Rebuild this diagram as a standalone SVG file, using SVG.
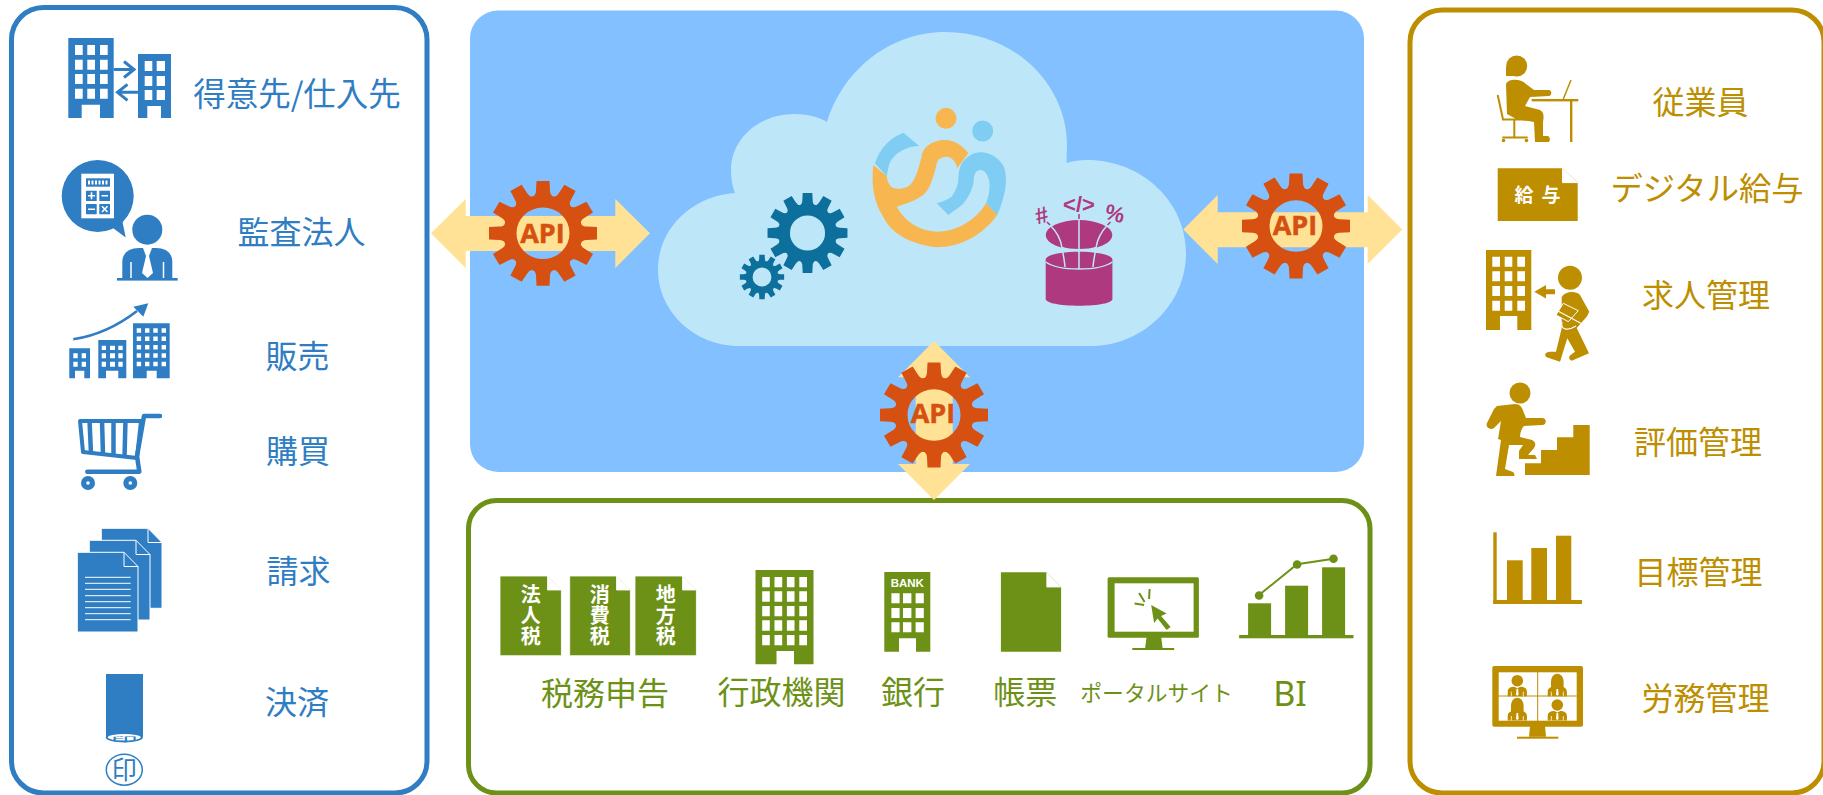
<svg xmlns="http://www.w3.org/2000/svg" width="1823" height="795" viewBox="0 0 1823 795">
<style>
text{font-family:"Noto Sans CJK JP","Noto Sans",sans-serif;text-anchor:middle}
.b{fill:#2F7DC3}.g{fill:#BC8E00}.gr{fill:#6D9117}.w{fill:#fff}
.o{fill:#D65111}.t{fill:#0D6F9B}.m{fill:#AF397F}.cl{fill:#BDE7F9}
.arrow{fill:#FFE295}
.panel{fill:#fff;stroke-width:5}
.wl{stroke:#fff;stroke-width:1;fill:none}
.api{font-family:"Open Sans","Liberation Sans",sans-serif;font-weight:700;font-size:27px;fill:#D65111;stroke:#D65111;stroke-width:.5}
.tw{font-weight:700;font-size:20px;fill:#fff;writing-mode:vertical-rl;letter-spacing:1px}
.sym{font-family:"Liberation Sans",sans-serif;font-weight:700;fill:#AF397F}
</style>
<defs>
<path id="tooth" d="M-11 -37Q-7 -39 -7 -44L-6.500 -54L6.500 -54L7 -44Q7 -39 11 -37Z"/>
<g id="teeth">
<use href="#tooth"/><use href="#tooth" transform="rotate(30)"/><use href="#tooth" transform="rotate(60)"/><use href="#tooth" transform="rotate(90)"/><use href="#tooth" transform="rotate(120)"/><use href="#tooth" transform="rotate(150)"/><use href="#tooth" transform="rotate(180)"/><use href="#tooth" transform="rotate(210)"/><use href="#tooth" transform="rotate(240)"/><use href="#tooth" transform="rotate(270)"/><use href="#tooth" transform="rotate(300)"/><use href="#tooth" transform="rotate(330)"/>
</g>
<g id="apiGear"><use href="#teeth"/><circle r="33" fill="none" stroke="#D65111" stroke-width="13"/></g>
<g id="vp">
<path d="M-9.600 15.500V11C-9.600 7-6 6-3 6L0 7.500L3 6C6 6 9.600 7 9.600 11V15.500Z"/>
<path d="M-.8 8H.8L1.300 14L0 15L-1.300 14Z" fill="#fff"/>
<path d="M-6 11V15.500M6 11V15.500" stroke="#fff" stroke-width=".8"/>
</g>
</defs>
<rect width="1823" height="795" fill="#fff"/>

<g id="panels">
<rect id="panel-left" class="panel" x="11.500" y="7.500" width="415.500" height="785.500" rx="32" stroke="#2F7DC3"/>
<rect id="panel-center" x="470" y="10.500" width="894" height="461.500" rx="28" fill="#83C0FF"/>
<rect id="panel-bottom" class="panel" x="468.500" y="500.500" width="901.500" height="292.500" rx="28" stroke="#6D9117"/>
<rect id="panel-right" class="panel" x="1410" y="10" width="414" height="783" rx="32" stroke="#BC8E00"/>
</g>

<g id="cloud">
<path class="cl" d="M739 346C694 346 658 311 658 270C658 228 692 196 735 193C732 185 731 178 731 170C731 138 760 114 794 114C808 114 819 117 827 122C843 70 890 32 945 32C1015 32 1067 85 1067 145L1066.500 163C1072 161 1080 160 1087 160C1142 160 1186 202 1186 253C1186 305 1142 346 1091 346Z"/>
</g>

<g id="gears" class="t">
<g transform="translate(807.500 233) scale(.74)"><use href="#teeth"/><circle r="31.500" fill="none" stroke="#0D6F9B" stroke-width="15.500"/></g>
<g transform="translate(762 277) scale(.41)"><use href="#teeth"/><circle r="31" fill="none" stroke="#0D6F9B" stroke-width="16"/></g>
</g>

<g id="logo">
<circle cx="946" cy="118.300" r="10.500" fill="#F7B64F"/>
<circle cx="982.700" cy="131" r="10.500" fill="#7FCDF3"/>
<path fill="#7FCDF3" d="M875 163.300C880 148 890 138 903.300 132.700L919.300 146C905 146 892 155 889 165L886.700 176Z"/>
<path fill="#7FCDF3" d="M936.700 203.300C945 201 948 199 951.700 196.700C956 190 958 185 958.300 180C959 172 958 160 975 153C985 150 998 155 1004 167C1008 178 1006 195 997.300 215L986 203.300C990 193 992 180 985 172C981 168 975 170 974 177C974 187 969 197 963 204C957 209 952 212 948.300 215Z"/>
<path fill="#F7B64F" d="M873.300 165C871 185 874 203 883.300 216.700C890 231 905 243 936.700 247.300C960 247 982 236 997.300 215L986 203.300C978 217 960 231.700 936.700 231.700C920 231 905 222 896.700 206.700C905 204 915 201 923.300 195C931 188 934 175 936.700 163.300C938 159 942 156.700 946.700 156.700C952 157 956 162 957.300 168.300L968.300 153.300C962 145 954 140 945 140C932 140 922 148 921.700 156.700C919 165 917 178 910 185C905 189 898 190 891.700 187.300C888 183 887 180 886.700 176Z"/>
</g>

<g id="database">
<ellipse class="m" cx="1079" cy="235" rx="33.300" ry="15"/>
<path class="m" d="M1045.700 259.700C1045.700 255 1060 251.700 1079 251.700C1098 251.700 1112.400 255 1112.400 259.700V299C1112.400 303 1098 305.700 1079 305.700C1060 305.700 1045.700 303 1045.700 299Z"/>
<path d="M1045.700 262C1052 266.500 1065 269 1079 269C1093 269 1106 266.500 1112.400 262M1079 219V269M1050 225C1057 232 1061 240 1062 248C1063 254 1064.500 260 1065 267M1107.500 225C1101 232 1097 240 1096 248C1095 254 1093.500 260 1093 267M1062 247.500C1070 250.500 1088 250.500 1096 247.500" fill="none" stroke="#BDE7F9" stroke-width="1.500"/>
<path d="M1079 214V219M1047 222L1050 225M1110.500 222L1107.500 225" fill="none" stroke="#AF397F" stroke-width="1.500"/>
<text class="sym" x="1079" y="211.500" font-size="22">&lt;/&gt;</text>
<text class="sym" x="1041.700" y="223" font-size="23" transform="rotate(-15 1041.700 215)">#</text>
<text class="sym" x="1115" y="221" font-size="22" transform="rotate(15 1115 213)">%</text>
</g>

<g id="connectors" class="arrow">
<path d="M431 233.300L465.700 199V216H615.300V199L650 233.300L615.300 268V251H465.700V268Z"/>
<path d="M1183.300 229.500L1217.700 195V212.300H1367.700V195L1402.300 229.500L1367.700 264V247.300H1217.700V264Z"/>
<path d="M934 341L970 377.300H952.700V464H970L934 500L898 464H915.700V377.300H898Z"/>
</g>

<g id="api-left" class="o"><use href="#apiGear" transform="translate(543 233.300) scale(1 .97)"/><text class="api" x="542.500" y="242.500">API</text></g>
<g id="api-right" class="o"><use href="#apiGear" transform="translate(1296 226) scale(1 .97)"/><text class="api" x="1295" y="235">API</text></g>
<g id="api-bottom" class="o"><use href="#apiGear" transform="translate(934 415) scale(1 .97)"/><text class="api" x="933" y="423">API</text></g>

<g id="customers" class="b">
<path d="M68.300 38H113.700V118H100V104.700H81.700V118H68.300Z"/>
<path d="M138 54H171V118H161V106H147.300V118H138Z"/>
<path class="w" d="M75 45h7.700v10H75zM87.300 45H95v10h-7.700zM100 45h7.700v10H100zM75 59.700h7.700v10H75zM87.300 59.700H95v10h-7.700zM100 59.700h7.700v10H100zM75 74h7.700v10H75zM87.300 74H95v10h-7.700zM100 74h7.700v10H100zM75 88.700h7.700v10H75zM87.300 88.700H95v10h-7.700zM100 88.700h7.700v10H100zM144.700 61h7.600v10h-7.600zM156.700 61H165v10h-8.300zM144.700 76h7.600v10h-7.600zM156.700 76H165v10h-8.300zM144.700 90h7.600v10h-7.600zM156.700 90H165v10h-8.300z"/>
<path d="M113.700 69.500H133M124 61.500L134 69.500L124 77.500M138 92.300H118.500M127.500 84.300L117.500 92.300L127.500 100.300" fill="none" stroke="#2F7DC3" stroke-width="3"/>
<text x="297" y="106" font-size="32.500" class="b">得意先/仕入先</text>
</g>

<g id="audit" class="b">
<circle cx="97.700" cy="196" r="36"/>
<path d="M113 228L125.700 237.500L121.700 218Z"/>
<rect class="w" x="81.300" y="173.700" width="32.700" height="44.600"/>
<rect x="86" y="178.300" width="24" height="8.400"/>
<path d="M86 190.700h10.700v10.300H86zM99.300 190.700H110v10.300H99.300zM86 204h10.700v10.300H86zM99.300 204H110v10.300H99.300z"/>
<path d="M88 182.500H108" stroke="#fff" stroke-width="4" stroke-dasharray="2 1.500" fill="none"/>
<path d="M88 195.800H95M91.500 192.300V199.300M101.500 195.800H108M88 209.200H95M102 206.300L107.500 212M107.500 206.300L102 212" stroke="#fff" stroke-width="1.600" fill="none"/>
<circle cx="147.300" cy="229.700" r="15"/>
<path d="M122.300 279V262C122.300 253 129 248 139 248H156C166 248 172.300 253 172.300 262V279Z"/>
<path d="M143 248H152L149 256L153 273L147.500 278L142 273L146 256Z" class="w"/>
<path d="M131 262V279M163.500 262V279" stroke="#fff" stroke-width="1.500"/>
<rect x="117" y="278" width="60.700" height="2.600"/>
<text x="301.500" y="244" font-size="32" class="b">監査法人</text>
</g>

<g id="sales" class="b">
<path d="M69.300 348.300H90V378.300H84.300V370.700H75V378.300H69.300ZM98.300 340H126.300V378.300H118.300V370.700H106V378.300H98.300ZM133 323.300H169.700V378.300H156.700V370.700H146.700V378.300H133Z"/>
<path class="w" d="M73.300 353.300h4.400v5h-4.400zM81.700 353.300h4.300v5h-4.300zM73.300 361.700h4.400v5h-4.400zM81.700 361.700h4.300v5h-4.300zM101.700 345.700h4.300v4.300h-4.300zM110 345.700h5v4.300h-5zM118.300 345.700h4.400v4.300h-4.400zM101.700 353.300h4.300v5h-4.300zM110 353.300h5v5h-5zM118.300 353.300h4.400v5h-4.400zM101.700 361.700h4.300v5h-4.300zM110 361.700h5v5h-5zM118.300 361.700h4.400v5h-4.400z"/>
<path stroke="#fff" stroke-width="4.400" stroke-dasharray="4.400 3.900" fill="none" d="M136.700 330.500H167M136.700 338.800H167M136.700 347.200H167M136.700 355.500H167M136.700 364H167"/>
<path d="M73.300 339.300C95 336 115 328 137 311" fill="none" stroke="#2F7DC3" stroke-width="2.600"/>
<path d="M148.300 303.300L133.300 306.700L143.300 316.700Z"/>
<text x="297.500" y="368" font-size="32" class="b">販売</text>
</g>

<g id="purchase" class="b">
<path d="M160 416H144L137 456L139.300 471.700H87.300" fill="none" stroke="#2F7DC3" stroke-width="4.500" stroke-linecap="round" stroke-linejoin="round"/>
<path d="M80 421H141L137 458L83 452Z" fill="none" stroke="#2F7DC3" stroke-width="4" stroke-linejoin="round"/>
<path d="M89.500 420L91 454M102 420L103 455M113.500 420V456M125.500 420L124.500 457" fill="none" stroke="#2F7DC3" stroke-width="4.500"/>
<circle cx="88" cy="483" r="7"/><circle cx="130.300" cy="483" r="7"/>
<circle cx="88" cy="483" r="1.800" class="w"/><circle cx="130.300" cy="483" r="1.800" class="w"/>
<text x="298" y="463" font-size="32" class="b">購買</text>
</g>

<g id="invoice" class="b" stroke="#fff" stroke-width="1">
<path d="M101.300 528.300H148L162 542.500V608.300H101.300Z"/><path d="M148 528.300V542.500H162" fill="none"/>
<path d="M89.300 540.300H136L150 554.500V620H89.300Z"/><path d="M136 540.300V554.500H150" fill="none"/>
<path d="M77.300 552.300H124L138 566.500V632H77.300Z"/><path d="M124 552.300V566.500H138" fill="none"/>
<path class="wl" d="M85 577.300H130.700M85 583.300H130.700M85 589.300H130.700M85 595.700H130.700M85 601.700H130.700M85 607.700H130.700M85 613.700H130.700M85 619.700H130.700"/>
<text x="298.500" y="583" font-size="32" class="b" stroke="none">請求</text>
</g>

<g id="payment" class="b">
<rect x="106" y="674" width="37" height="63"/>
<ellipse cx="124.300" cy="737.500" rx="18.500" ry="5"/>
<ellipse cx="124.300" cy="737.300" rx="16.500" ry="3.300" class="w"/>
<text transform="translate(124.300 740.500) scale(1.500 .3)" font-size="18" class="b">印</text>
<ellipse cx="124.300" cy="769.700" rx="18" ry="15.500" fill="none" stroke="#2F7DC3" stroke-width="1.500"/>
<text x="124.300" y="779" font-size="25" class="b">印</text>
<text x="297" y="714" font-size="32" class="b">決済</text>
</g>

<g id="tax" class="gr">
<path d="M500 576H547.500L561.400 590V655.700H500ZM569.700 576H616.500L630.400 590V655.700H569.700ZM635 576H682.500L696.400 590V655.700H635Z" stroke="#fff" stroke-width=".8"/>
<path d="M547.500 576V590H561.400M616.500 576V590H630.400M682.500 576V590H696.400" fill="#fff" stroke="#fff" stroke-width=".8"/>
<text class="tw" x="530.800" y="616">法人税</text>
<text class="tw" x="599.700" y="616">消費税</text>
<text class="tw" x="665.800" y="616">地方税</text>
<text x="605" y="705" font-size="32" class="gr">税務申告</text>
</g>

<g id="government" class="gr" transform="translate(-1.500 0)">
<path d="M757 570H815V664.300H795.500V651H778V664.300H757Z"/>
<path class="w" d="M763.700 577h7.600v10.300h-7.600zM776 577h7.700v10.300H776zM788.400 577H796v10.300h-7.600zM800.800 577h7.700v10.300h-7.700zM763.700 591.300h7.600v10.400h-7.600zM776 591.300h7.700v10.400H776zM788.400 591.300H796v10.400h-7.600zM800.800 591.300h7.700v10.400h-7.700zM763.700 606h7.600v10.300h-7.600zM776 606h7.700v10.300H776zM788.400 606H796v10.300h-7.600zM800.800 606h7.700v10.300h-7.700zM763.700 620.300h7.600v10.400h-7.600zM776 620.300h7.700v10.400H776zM788.400 620.300H796v10.400h-7.600zM800.800 620.300h7.700v10.400h-7.700zM763.700 635h7.600v10.300h-7.600zM776 635h7.700v10.300H776zM788.400 635H796v10.300h-7.600zM800.800 635h7.700v10.300h-7.700z"/>
<text x="783" y="704" font-size="32" class="gr">行政機関</text>
</g>

<g id="bank" class="gr" transform="translate(-2 0)">
<path d="M886.300 572H932.300V651.700H918V638.300H901V651.700H886.300Z"/>
<text x="909.300" y="586.500" font-size="11.500" font-weight="700" class="w" style="font-family:'Liberation Sans',sans-serif">BANK</text>
<path class="w" d="M893.400 593.300h8.200v10h-8.200zM905 593.300h8.400v10H905zM917.600 593.300h8.200v10h-8.200zM893.400 608h8.200v10h-8.200zM905 608h8.400v10H905zM917.600 608h8.200v10h-8.200zM893.400 622.300h8.200v10h-8.200zM905 622.300h8.400v10H905zM917.600 622.300h8.200v10h-8.200z"/>
<text x="915" y="704" font-size="32" class="gr">銀行</text>
</g>

<g id="form" class="gr" transform="translate(-2.700 0)">
<path d="M1003.600 572.300H1049.500L1063.800 587V651.700H1003.600Z"/>
<path d="M1049.500 572.300V587H1063.800" fill="#fff" stroke="#fff" stroke-width=".8"/>
<text x="1028" y="704" font-size="32" class="gr">帳票</text>
</g>

<g id="portal" class="gr" transform="translate(-3.400 0)">
<rect x="1111" y="577.300" width="91.300" height="60.400" rx="1.500"/>
<rect x="1118" y="583.300" width="79" height="48.400" class="w"/>
<path d="M1150 637H1164.600L1166 648.300H1148.500Z"/><rect x="1135.700" y="648" width="41.900" height="2"/>
<path d="M1154.600 605L1170 613.500L1164.500 616L1174 627L1170 630L1161 618.500L1157.500 623Z"/>
<path d="M1153 589L1152.500 599M1142.500 593L1148 602M1138 603.500L1147.500 605" stroke="#6D9117" stroke-width="2" fill="none"/>
<text x="1160" y="701" font-size="21.800" class="gr">ポータルサイト</text>
</g>

<g id="bi" class="gr" transform="translate(-3.900 0)">
<rect x="1243" y="635" width="114.400" height="3.300"/>
<rect x="1252" y="603.300" width="23" height="32"/><rect x="1289" y="585.700" width="23" height="50"/><rect x="1326" y="567.300" width="23" height="68"/>
<path d="M1263 595L1301 564.300L1337.400 558.700" fill="none" stroke="#6D9117" stroke-width="2"/>
<circle cx="1263" cy="595.500" r="4.300"/><circle cx="1301" cy="564.500" r="4.300"/><circle cx="1337.400" cy="558.700" r="4.300"/>
<text x="1294" y="706" font-size="34" class="gr" style="font-family:'Noto Sans',sans-serif">BI</text>
</g>

<g id="employee" class="g">
<circle cx="1516.700" cy="66" r="10.500"/>
<path d="M1506 66V76H1514Z"/>
<path d="M1506 84C1508 79 1520 78 1526 84L1534 90H1549C1552 90 1552 96 1549 96L1530 97L1525 106L1540 110C1544 112 1544 116 1543 122V136H1548C1551 138 1550 142 1548 142H1535L1534 122L1516 119L1507 114Z"/>
<rect x="1531.700" y="99" width="46.600" height="2.400"/>
<rect x="1570" y="100" width="2.400" height="42"/>
<path d="M1563.300 99L1571 80" stroke="#BC8E00" stroke-width="1.500" fill="none"/>
<path d="M1497.700 95L1503 119.500H1534M1514.300 120V138M1502.300 137.500H1527.700" stroke="#BC8E00" stroke-width="2" fill="none"/>
<circle cx="1503.500" cy="140.500" r="1.800"/><circle cx="1526.500" cy="140.500" r="1.800"/>
<text x="1700.500" y="114" font-size="32" class="g">従業員</text>
</g>

<g id="payroll" class="g">
<path d="M1497.700 168.300H1562.500L1577.700 182.600V221H1497.700Z"/>
<path d="M1562.500 168.300V182.600H1577.700" fill="#fff" stroke="#fff"/>
<text x="1524" y="202" font-size="19" font-weight="700" class="w">給</text>
<text x="1551" y="202" font-size="19" font-weight="700" class="w">与</text>
<text x="1707" y="200" font-size="32.300" class="g">デジタル給与</text>
</g>

<g id="recruit" class="g">
<path d="M1486 250H1531.300V330H1517.300V316H1500V330H1486Z"/>
<path class="w" d="M1492.300 256.700h7.700v10h-7.700zM1504.700 256.700h7.600v10h-7.600zM1517.300 256.700h7.700v10h-7.700zM1492.300 271.300h7.700v10h-7.700zM1504.700 271.300h7.600v10h-7.600zM1517.300 271.300h7.700v10h-7.700zM1492.300 286h7.700v10h-7.700zM1504.700 286h7.600v10h-7.600zM1517.300 286h7.700v10h-7.700zM1492.300 300.700h7.700v10h-7.700zM1504.700 300.700h7.600v10h-7.600zM1517.300 300.700h7.700v10h-7.700z"/>
<path d="M1534.300 291.700L1546 285V289.200H1555V294.200H1546V298.400Z"/>
<circle cx="1570" cy="277.700" r="12"/>
<path d="M1561.700 297C1565 292 1575 290 1580 295L1589.300 311.700L1586.700 316.700L1576.700 328L1589 353.300L1571.700 360.700C1569 360 1568.500 357 1570 355.500L1575 351.700L1567.300 338.300L1560 361.700L1546.700 357.300C1544 355 1545 352 1550 351.700H1556L1561.700 328.300Z"/>
<path d="M1563.300 303.300L1578.300 310.700L1568.300 321.700L1556 315Z" stroke="#fff" stroke-width="1"/>
<path d="M1550 306.700L1587.300 326.700M1562 322C1560 330 1568 331 1576 326" fill="none" stroke="#fff" stroke-width="1.200"/>
<text x="1706" y="307" font-size="32" class="g">求人管理</text>
</g>

<g id="evaluation" class="g">
<circle cx="1520" cy="393" r="10.500"/>
<path d="M1497 406L1515 404C1520 404 1522 407 1524 413L1526 418H1542C1547 418 1547 425 1542 425L1524 426C1522 428 1520 432 1520 437L1532 440C1536 442 1536 445 1534 448L1528 455H1535L1537 459H1519L1519 451L1523 445L1509 445L1505 469L1513 472C1515 474 1515 476 1513 476H1496L1501 440L1498 439L1501 421L1494 428C1490 431 1485 427 1487 423L1494 409Z"/>
<path d="M1525 475V463.300H1541V450H1557V437.300H1573.300V425H1589.700V475Z"/>
<text x="1698" y="454" font-size="32" class="g">評価管理</text>
</g>

<g id="goals" class="g">
<rect x="1493.300" y="532.300" width="3.400" height="71.700"/>
<rect x="1493.300" y="600" width="88.700" height="4"/>
<rect x="1507" y="560.300" width="15.700" height="40"/><rect x="1531.300" y="548" width="15.700" height="52"/><rect x="1556" y="535.700" width="15.300" height="65"/>
<text x="1698.500" y="584" font-size="32" class="g">目標管理</text>
</g>

<g id="labor" class="g">
<rect x="1492.300" y="666" width="90.700" height="60.700" rx="2"/>
<rect x="1498.700" y="672.300" width="78" height="48.400" class="w"/>
<path d="M1537.700 672V721M1498.700 696H1576.700" stroke="#BC8E00" stroke-width="1" fill="none"/>
<use href="#vp" transform="translate(1517.300 680.700)"/><circle cx="1517.300" cy="680.700" r="5.800"/>
<use href="#vp" transform="translate(1557.300 680.700)"/><path d="M1551 689V682C1551 671 1563.600 671 1563.600 682V689Z"/>
<use href="#vp" transform="translate(1517.300 705)"/><path d="M1511 713V706C1511 695 1523.600 695 1523.600 706V713Z"/>
<use href="#vp" transform="translate(1557.300 705)"/><circle cx="1557.300" cy="705" r="5.800"/>
<path d="M1530 726H1545L1546 736.700H1529Z"/><rect x="1517" y="736.700" width="41.300" height="2"/>
<text x="1705.500" y="710" font-size="32" class="g">労務管理</text>
</g>
</svg>
